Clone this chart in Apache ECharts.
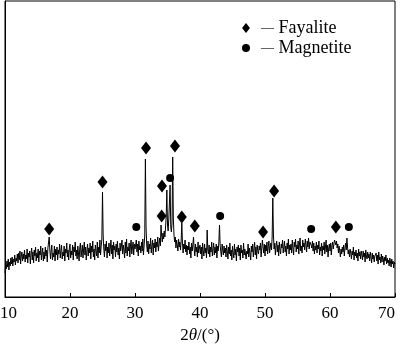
<!DOCTYPE html>
<html>
<head>
<meta charset="utf-8">
<script src="https://cdn.jsdelivr.net/npm/echarts@6/dist/echarts.min.js"></script>
<style>
  html, body { margin: 0; padding: 0; background: #fff; }
  #chart { width: 400px; height: 344px; }
</style>
</head>
<body>
<div id="chart"></div>
<script>
// scan: 2theta from 10 to 70, one reading every 0.1 deg
var scanStart = 10;
var scanStep = 0.1;
var intensity = [
  24, 33, 28, 36, 30, 38, 27, 35, 31, 39,    // 10
  33, 40, 31, 38, 35, 42, 32, 39, 36, 43,    // 11
  34, 44, 37, 46, 33, 41, 45, 36, 43, 38,    // 12
  47, 35, 42, 38, 48, 34, 44, 40, 46, 33,    // 13
  43, 49, 37, 45, 34, 47, 41, 50, 36, 44,    // 14
  39, 48, 35, 46, 42, 51, 37, 44, 49, 36,    // 15
  45, 38, 50, 41, 47, 35, 49, 50, 60, 47,    // 16
  38, 46, 52, 37, 44, 40, 51, 36, 48, 42,    // 17
  50, 37, 47, 43, 53, 39, 46, 52, 38, 45,    // 18
  41, 51, 36, 48, 44, 54, 40, 47, 37, 49,    // 19
  53, 39, 46, 42, 52, 37, 50, 45, 55, 41,    // 20
  47, 38, 51, 44, 36, 49, 54, 40, 46, 52,    // 21
  39, 48, 55, 42, 50, 37, 46, 53, 41, 49,    // 22
  44, 54, 38, 51, 45, 56, 40, 48, 37, 52,    // 23
  46, 41, 55, 39, 50, 44, 57, 42, 51, 58,    // 24
  105, 62, 48, 40, 53, 46, 56, 39, 50, 44,   // 25
  54, 41, 49, 57, 43, 52, 38, 55, 47, 51,    // 26
  40, 53, 45, 56, 42, 49, 38, 54, 46, 51,    // 27
  57, 43, 52, 47, 39, 55, 44, 58, 41, 50,    // 28
  46, 54, 40, 51, 57, 43, 49, 55, 42, 53,    // 29
  48, 52, 57, 45, 53, 41, 56, 47, 51, 44,    // 30
  55, 46, 58, 42, 51, 62, 138, 70, 52, 45,   // 31
  56, 43, 53, 48, 59, 44, 51, 57, 42, 54,    // 32
  49, 58, 45, 55, 50, 60, 46, 53, 59, 51,    // 33
  72, 62, 55, 64, 58, 66, 60, 70, 80, 107,   // 34
  72, 66, 78, 80, 112, 70, 65, 75, 140, 78,  // 35
  62, 55, 60, 49, 57, 52, 46, 58, 50, 55,    // 36
  47, 56, 74, 55, 44, 53, 48, 57, 45, 52,    // 37
  42, 51, 47, 55, 43, 50, 39, 54, 46, 52,    // 38
  60, 48, 41, 53, 45, 50, 40, 55, 44, 49,    // 39
  52, 43, 50, 38, 54, 46, 41, 53, 44, 49,    // 40
  39, 67, 47, 43, 52, 40, 50, 45, 55, 41,    // 41
  48, 54, 42, 50, 44, 53, 39, 51, 46, 55,    // 42
  72, 52, 45, 40, 53, 47, 42, 51, 44, 49,    // 43
  40, 52, 45, 38, 50, 43, 54, 41, 47, 37,    // 44
  51, 44, 39, 53, 42, 48, 36, 50, 45, 52,    // 45
  41, 49, 37, 52, 44, 47, 39, 54, 42, 48,    // 46
  50, 38, 46, 43, 53, 40, 49, 44, 37, 51,    // 47
  45, 53, 40, 48, 55, 42, 50, 38, 52, 46,    // 48
  43, 51, 47, 54, 40, 49, 57, 50, 44, 53,    // 49
  41, 52, 46, 55, 43, 50, 56, 44, 49, 54,    // 50
  47, 60, 99, 62, 48, 54, 42, 51, 56, 45,    // 51
  52, 41, 55, 47, 43, 53, 49, 57, 44, 50,    // 52
  56, 45, 51, 41, 54, 48, 58, 43, 52, 47,    // 53
  53, 44, 57, 49, 42, 55, 50, 58, 45, 52,    // 54
  48, 56, 43, 53, 59, 46, 51, 44, 57, 50,    // 55
  54, 47, 58, 52, 45, 56, 50, 59, 48, 55,    // 56
  57, 52, 49, 56, 46, 54, 43, 51, 47, 55,    // 57
  44, 52, 48, 56, 42, 50, 46, 54, 41, 51,    // 58
  47, 55, 43, 50, 57, 45, 52, 40, 49, 53,    // 59
  46, 54, 42, 51, 55, 48, 53, 57, 59, 52,    // 60
  56, 49, 53, 44, 51, 46, 40, 48, 43, 50,    // 61
  45, 52, 41, 49, 54, 47, 59, 50, 43, 47,    // 62
  40, 48, 44, 38, 46, 42, 50, 37, 45, 41,    // 63
  47, 39, 44, 36, 48, 41, 45, 38, 46, 42,    // 64
  37, 46, 40, 44, 35, 47, 41, 38, 45, 39,    // 65
  43, 36, 45, 40, 34, 44, 38, 42, 35, 41,    // 66
  39, 44, 36, 42, 33, 45, 37, 40, 34, 43,    // 67
  35, 41, 38, 32, 40, 36, 42, 33, 39, 34,    // 68
  37, 31, 39, 35, 30, 38, 33, 36, 29, 35,    // 69
  33                                         // 70
];

// phase markers: position and level of each symbol
var fayaliteAngles = [16.8, 25.0, 31.7, 34.1, 34.15, 36.15, 37.2, 39.2, 49.7, 51.4, 60.9];
var fayaliteLevels = [68, 115, 149, 81, 111, 151, 80, 71, 65, 106, 70];
var magnetiteAngles = [30.2, 35.4, 43.1, 57.1, 62.9];
var magnetiteLevels = [70, 119, 81, 68, 70];

var xTicks = [10, 20, 30, 40, 50, 60, 70];

function pairs(xs, ys) {
  var out = [];
  for (var i = 0; i < xs.length; i++) out.push([xs[i], ys[i]]);
  return out;
}

var scan = [];
for (var i = 0; i < intensity.length; i++) {
  scan.push([+(scanStart + i * scanStep).toFixed(1), intensity[i]]);
}

var serif = '"Liberation Serif", "Times New Roman", serif';
var txt = { fontFamily: serif, fontSize: 17, color: '#000' };

var myChart = echarts.init(document.getElementById('chart'));
myChart.setOption({
  animation: false,
  grid: {
    left: 5, right: 5, top: 1, bottom: 47,
    outerBoundsMode: 'none',
    show: true, borderColor: '#000', borderWidth: 1
  },
  legend: {
    orient: 'vertical',
    left: 237, top: 14,
    itemWidth: 8, itemHeight: 10, itemGap: 2,
    data: [
      { name: 'Fayalite', icon: 'diamond' },
      { name: 'Magnetite', icon: 'circle' }
    ],
    formatter: '{d|—} {t|{name}}',
    textStyle: {
      fontFamily: serif, fontSize: 18, color: '#000', lineHeight: 18,
      rich: {
        d: { fontSize: 13, fontFamily: serif, color: '#000', padding: [0, 0, 0, 6] },
        t: { fontSize: 18, fontFamily: serif, color: '#000' }
      }
    }
  },
  xAxis: {
    type: 'value',
    min: xTicks[0], max: xTicks[xTicks.length - 1], interval: 10,
    axisLine: { lineStyle: { color: '#000' } },
    axisTick: { inside: true, length: 4, lineStyle: { color: '#000' } },
    splitLine: { show: false },
    axisLabel: {
      fontFamily: serif, fontSize: 17, color: '#000', margin: 8,
      alignMaxLabel: 'right',
      formatter: function (v) {
        return v === xTicks[0] ? '{first|' + v + '}' : '{n|' + v + '}';
      },
      rich: {
        n: txt,
        first: { fontFamily: serif, fontSize: 17, color: '#000', padding: [0, 0, 0, 7] }
      }
    },
    name: '{n|2}{i|θ}{n|/(°)}',
    nameLocation: 'middle',
    nameGap: 29,
    nameTextStyle: {
      fontFamily: serif, fontSize: 17, color: '#000',
      rich: { n: txt, i: { fontFamily: serif, fontSize: 17, fontStyle: 'italic', color: '#000' } }
    }
  },
  yAxis: {
    type: 'value', min: 0, max: 296,
    axisLine: { show: true, lineStyle: { color: '#000' } },
    axisTick: { show: false },
    axisLabel: { show: false },
    splitLine: { show: false }
  },
  series: [
    {
      name: 'scan',
      type: 'line',
      data: scan,
      showSymbol: false,
      lineStyle: { color: '#000', width: 1 },
      silent: true
    },
    {
      name: 'Fayalite',
      type: 'scatter',
      symbol: 'diamond',
      symbolSize: [10, 13],
      itemStyle: { color: '#000', opacity: 1 },
      data: pairs(fayaliteAngles, fayaliteLevels)
    },
    {
      name: 'Magnetite',
      type: 'scatter',
      symbol: 'circle',
      symbolSize: 8,
      itemStyle: { color: '#000', opacity: 1 },
      data: pairs(magnetiteAngles, magnetiteLevels)
    }
  ]
});
</script>
</body>
</html>
